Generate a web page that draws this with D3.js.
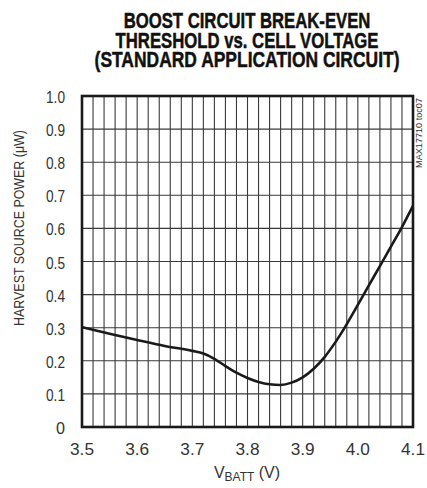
<!DOCTYPE html>
<html><head><meta charset="utf-8">
<script src="https://cdn.jsdelivr.net/npm/d3@7"></script>
<style>
body{margin:0;background:#fff;}
svg{display:block;}
text{fill:#222;}
</style></head>
<body>
<svg id="c" width="427" height="488"></svg>
<script>
const titleLines = ["BOOST CIRCUIT BREAK-EVEN","THRESHOLD vs. CELL VOLTAGE","(STANDARD APPLICATION CIRCUIT)"];
const xTicks = [3.5,3.6,3.7,3.8,3.9,4.0,4.1];
const yTicks = [0,0.1,0.2,0.3,0.4,0.5,0.6,0.7,0.8,0.9,1.0];
const vbatt = [3.50,3.55,3.60,3.65,3.70,3.72,3.74,3.76,3.78,3.80,3.82,3.84,3.86,3.88,3.90,3.92,3.94,3.96,3.98,4.00,4.02,4.04,4.06,4.08,4.10];
const power = [0.302,0.282,0.263,0.245,0.230,0.222,0.206,0.184,0.164,0.148,0.136,0.129,0.127,0.134,0.150,0.176,0.212,0.258,0.311,0.369,0.428,0.486,0.545,0.604,0.668];

const svg = d3.select("#c");
const x = d3.scaleLinear().domain([3.5,4.1]).range([82,413]);
const y = d3.scaleLinear().domain([0,1]).range([427,96]);
const font="Liberation Sans, Arial, sans-serif";

function fitText(sel, w, cx, by, anchor){
  const len = sel.node().getComputedTextLength();
  const s = w/len;
  sel.attr("x",0).attr("y",0).attr("transform",`translate(${cx},${by}) scale(${s},1)`);
}

// title
const tb=[28,48,67], tw=[247,263,305];
titleLines.forEach((t,i)=>{
  const tt = svg.append("text").attr("text-anchor","middle")
    .attr("font-family",font).attr("font-weight","bold")
    .attr("font-size",22.5).style("fill","#111").style("stroke","#111").style("stroke-width",0.5).text(t);
  fitText(tt, tw[i], 247, tb[i]);
});

// grid
const g = svg.append("g");
const vx = d3.range(0,31).map(i=>3.5+i*0.02);
g.selectAll("line.v").data(vx).join("line").attr("class","v")
  .attr("x1",d=>x(d)).attr("x2",d=>x(d)).attr("y1",y(1)).attr("y2",y(0))
  .attr("stroke","#3a3a3a").attr("stroke-width",1.1);
g.selectAll("line.h").data(yTicks).join("line").attr("class","h")
  .attr("x1",x(3.5)).attr("x2",x(4.1)).attr("y1",d=>y(d)).attr("y2",d=>y(d))
  .attr("stroke","#3a3a3a").attr("stroke-width",1.1);
svg.append("rect").attr("x",x(3.5)).attr("y",y(1)).attr("width",x(4.1)-x(3.5)).attr("height",y(0)-y(1))
  .attr("fill","none").attr("stroke","#1a1a1a").attr("stroke-width",2.6);

// curve
const line = d3.line().x((d,i)=>x(vbatt[i])).y(d=>y(d)).curve(d3.curveMonotoneX);
svg.append("path").datum(power).attr("d",line).attr("fill","none")
  .attr("stroke","#1a1a1a").attr("stroke-width",2.6).attr("stroke-linejoin","round");

// axes labels
svg.selectAll("text.xt").data(xTicks).join("text").attr("class","xt")
  .attr("text-anchor","middle").attr("font-family",font).attr("font-size",17)
  .style("fill","#333").text(d=>d.toFixed(1))
  .each(function(d){ fitText(d3.select(this), 24, x(d), 455); });
svg.selectAll("text.yt").data(yTicks).join("text").attr("class","yt")
  .attr("text-anchor","end").attr("font-family",font).attr("font-size",16)
  .style("fill","#333").text(d=>d===0?"0":d.toFixed(1))
  .each(function(d){ fitText(d3.select(this), d===0?9:19, 65, y(d)+7); });

// x title
const xt = svg.append("text").attr("x",247).attr("y",478).attr("text-anchor","middle")
  .attr("font-family",font).attr("font-size",16).style("fill","#333");
xt.append("tspan").text("V");
xt.append("tspan").attr("font-size",12).attr("dy",3).text("BATT");
xt.append("tspan").attr("dy",-3).text(" (V)");

// y title
const yt = svg.append("text").attr("text-anchor","middle")
  .attr("font-family",font).attr("font-size",14.5).style("fill","#333").text("HARVEST SOURCE POWER  (\u03bcW)");
{
  const len = yt.node().getComputedTextLength();
  yt.attr("transform",`translate(24,228) rotate(-90) scale(${196/len},1)`);
}

// note
const nt = svg.append("text").attr("text-anchor","end")
  .attr("font-family",font).attr("font-size",9).style("fill","#333").text("MAX17710 toc07");
{
  const len = nt.node().getComputedTextLength();
  nt.attr("transform",`translate(422,98) rotate(-90) scale(${70/len},1)`);
}
</script>
</body></html>
